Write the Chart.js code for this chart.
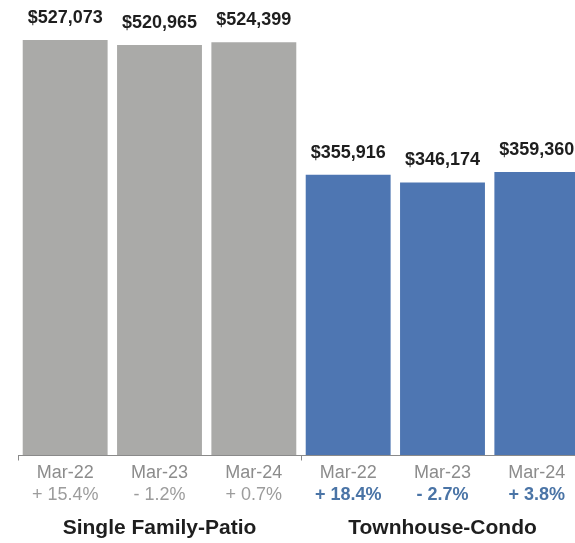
<!DOCTYPE html>
<html>
<head>
<meta charset="utf-8">
<script src="https://cdn.jsdelivr.net/npm/chart.js@4.4.1/dist/chart.umd.min.js"></script>
<style>
  html, body { margin: 0; padding: 0; background: #fff; overflow: hidden; }
  #wrap { width: 584px; height: 543px; }
</style>
</head>
<body>
<div id="wrap"><canvas id="c" width="584" height="543"></canvas></div>
<script>
// Median sales price by property type, March of each year
const categories = ['Mar-22', 'Mar-23', 'Mar-24', 'Mar-22', 'Mar-23', 'Mar-24'];
const prices = [527073, 520965, 524399, 355916, 346174, 359360];
const changes = ['+ 15.4%', '- 1.2%', '+ 0.7%', '+ 18.4%', '- 2.7%', '+ 3.8%'];
const groups = ['Single Family-Patio', 'Townhouse-Condo'];
const groupSize = 3;

const GRAY = '#aaaaa8';
const BLUE = '#4e76b2';
const FONT = '"Liberation Sans", Arial, Helvetica, sans-serif';

const barColors = prices.map((_, i) => (i < groupSize ? GRAY : BLUE));

const labelsPlugin = {
  id: 'priceLabels',
  afterDatasetsDraw(chart) {
    const ctx = chart.ctx;
    const x = chart.scales.x;
    const area = chart.chartArea;
    const meta = chart.getDatasetMeta(0);
    ctx.save();

    // value labels above each bar
    ctx.textAlign = 'center';
    ctx.textBaseline = 'middle';
    ctx.fillStyle = '#1e1e1e';
    ctx.font = 'bold 18px ' + FONT;
    meta.data.forEach((bar, i) => {
      const v = prices[i];
      ctx.fillText('$' + v.toLocaleString('en-US'), bar.x, bar.y - 22);
    });

    // baseline with ticks at group edges
    const base = Math.round(area.bottom) + 0.5;
    ctx.strokeStyle = '#8a8a8a';
    ctx.lineWidth = 1;
    ctx.beginPath();
    ctx.moveTo(area.left, base);
    ctx.lineTo(area.right, base);
    const edges = [x.getPixelForValue(-0.5), x.getPixelForValue(groupSize - 0.5)];
    edges.forEach(px => {
      const p = Math.round(px) + 0.5;
      ctx.moveTo(p, base);
      ctx.lineTo(p, base + 5);
    });
    ctx.stroke();

    // category and change labels
    categories.forEach((c, i) => {
      const px = x.getPixelForValue(i);
      ctx.font = '18px ' + FONT;
      ctx.fillStyle = '#8c8c8c';
      ctx.fillText(c, px, area.bottom + 18);
      if (i < groupSize) {
        ctx.font = '18px ' + FONT;
        ctx.fillStyle = '#9c9c9c';
      } else {
        ctx.font = 'bold 18px ' + FONT;
        ctx.fillStyle = '#4a74a6';
      }
      ctx.fillText(changes[i], px, area.bottom + 40);
    });

    // group titles
    ctx.font = 'bold 21px ' + FONT;
    ctx.fillStyle = '#1e1e1e';
    groups.forEach((g, gi) => {
      const a = x.getPixelForValue(gi * groupSize);
      const b = x.getPixelForValue(gi * groupSize + groupSize - 1);
      ctx.fillText(g, (a + b) / 2, area.bottom + 73);
    });

    ctx.restore();
  }
};

new Chart(document.getElementById('c'), {
  type: 'bar',
  data: {
    labels: categories,
    datasets: [{
      data: prices,
      backgroundColor: barColors,
      borderWidth: 0,
      barPercentage: 0.9,
      categoryPercentage: 1.0
    }]
  },
  options: {
    responsive: false,
    animation: false,
    layout: { padding: { left: 18, right: 0, top: 0, bottom: 88 } },
    plugins: {
      legend: { display: false },
      tooltip: { enabled: false }
    },
    scales: {
      x: { display: false },
      y: { display: false, min: 0, max: 578000 }
    }
  },
  plugins: [labelsPlugin]
});
</script>
</body>
</html>
